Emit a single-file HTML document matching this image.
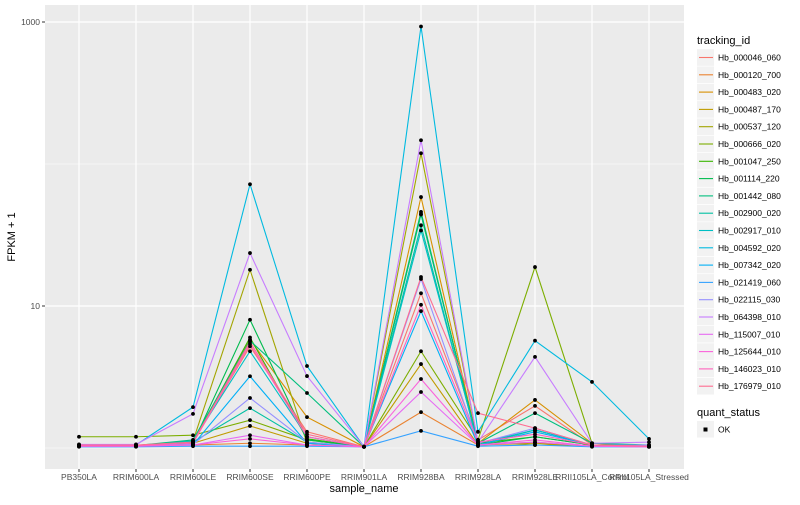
<!DOCTYPE html>
<html><head><meta charset="utf-8"><style>
body{margin:0;background:#fff;font-family:"Liberation Sans",sans-serif}
svg text{font-family:"Liberation Sans",sans-serif}
</style></head><body>
<svg id="chart" width="800" height="500"></svg>
<script>
const categories=["PB350LA","RRIM600LA","RRIM600LE","RRIM600SE","RRIM600PE","RRIM901LA","RRIM928BA","RRIM928LA","RRIM928LE","RRII105LA_Control","RRII105LA_Stressed"];
const seriesNames=["Hb_000046_060","Hb_000120_700","Hb_000483_020","Hb_000487_170","Hb_000537_120","Hb_000666_020","Hb_001047_250","Hb_001114_220","Hb_001442_080","Hb_002900_020","Hb_002917_010","Hb_004592_020","Hb_007342_020","Hb_021419_060","Hb_022115_030","Hb_064398_010","Hb_115007_010","Hb_125644_010","Hb_146023_010","Hb_176979_010"];
const colors=["#F8766D","#EA8331","#D89000","#C09B00","#A3A500","#7CAE00","#39B600","#00BB4E","#00BF7D","#00C1A3","#00BFC4","#00BAE0","#00B0F6","#35A2FF","#9590FF","#C77CFF","#E76BF3","#FA62DB","#FF62BC","#FF6C91"];
const s0=[1.05,1.03,1.1,5.2,1.3,1.02,12.3,1.14,1.98,1.05,1.03];
const s1=[1.03,1.03,1.05,1.08,1.05,1.02,1.79,1.05,1.1,1.03,1.02];
const s2=[1.04,1.04,1.1,5.8,1.65,1.02,58.5,1.08,2.18,1.08,1.03];
const s3=[1.03,1.03,1.08,1.43,1.08,1.02,3.9,1.05,1.08,1.03,1.02];
const s4=[1.04,1.04,1.12,18,1.08,1.02,119,1.1,1.05,1.05,1.03];
const s5=[1.2,1.2,1.23,1.57,1.14,1.02,4.8,1.14,18.8,1.08,1.03];
const s6=[1.03,1.03,1.1,6.0,1.16,1.02,44.5,1.08,1.2,1.05,1.03];
const s7=[1.03,1.03,1.08,8.0,1.14,1.02,46,1.05,1.2,1.05,1.03];
const s8=[1.04,1.04,1.14,5.7,2.44,1.02,44,1.08,1.76,1.08,1.05];
const s9=[1.03,1.03,1.1,1.91,1.1,1.02,37,1.05,1.34,1.05,1.03];
const s10=[1.03,1.03,1.12,4.8,1.2,1.02,34,1.08,1.34,1.05,1.03];
const s11=[1.05,1.05,1.94,72,3.78,1.02,930,1.3,5.7,2.92,1.16];
const s12=[1.03,1.03,1.05,3.2,1.08,1.02,9.2,1.05,1.3,1.05,1.03];
const s13=[1.02,1.02,1.03,1.03,1.03,1.02,1.32,1.03,1.05,1.02,1.02];
const s14=[1.04,1.04,1.06,2.25,1.1,1.02,15.5,1.08,1.38,1.05,1.05];
const s15=[1.06,1.06,1.74,23.6,3.21,1.02,147,1.1,4.38,1.08,1.1];
const s16=[1.03,1.03,1.05,1.23,1.05,1.02,2.48,1.05,1.1,1.03,1.02];
const s17=[1.03,1.03,1.05,1.16,1.05,1.02,3.06,1.05,1.14,1.03,1.02];
const s18=[1.04,1.04,1.08,5.4,1.2,1.02,10.2,1.1,1.25,1.05,1.03];
const s19=[1.05,1.05,1.1,5.6,1.25,1.02,16,1.76,1.38,1.05,1.03];
const seriesValues=[s0,s1,s2,s3,s4,s5,s6,s7,s8,s9,s10,s11,s12,s13,s14,s15,s16,s17,s18,s19];
const yTicks=[10,1000];
const yMinor=[1,100];

const NS="http://www.w3.org/2000/svg";
const svg=document.getElementById("chart");
const P={l:45,r:684,t:5,b:469};
function xS(i){return 79+i*57;}
function yS(v){return 448-142*Math.log10(v);}
function el(tag,attrs,parent){const e=document.createElementNS(NS,tag);for(const k in attrs)e.setAttribute(k,attrs[k]);(parent||svg).appendChild(e);return e;}

const panel=el("rect",{x:P.l,y:P.t,width:P.r-P.l,height:P.b-P.t,fill:"#EBEBEB"});


yMinor.forEach(v=>{const g=el("line",{x1:P.l,x2:P.r,y1:yS(v),y2:yS(v),stroke:"#fff","stroke-width":0.6});

});
yTicks.forEach(v=>{const g=el("line",{x1:P.l,x2:P.r,y1:yS(v),y2:yS(v),stroke:"#fff","stroke-width":1.2});


el("line",{x1:P.l-3,x2:P.l,y1:yS(v),y2:yS(v),stroke:"#333","stroke-width":1});
const t=el("text",{x:P.l-5,y:yS(v)+3,"text-anchor":"end","font-size":"8.5",fill:"#4D4D4D"});t.textContent=String(v);

});
categories.forEach((c,i)=>{const g=el("line",{x1:xS(i),x2:xS(i),y1:P.t,y2:P.b,stroke:"#fff","stroke-width":1.2});


el("line",{x1:xS(i),x2:xS(i),y1:P.b,y2:P.b+3,stroke:"#333","stroke-width":1});
const t=el("text",{x:xS(i),y:P.b+11,"text-anchor":"middle","font-size":"8.5",fill:"#4D4D4D"});t.textContent=c;

});

seriesValues.forEach((vals,si)=>{
 const pts=vals.map((v,i)=>xS(i)+","+yS(v)).join(" ");
 const pl=el("polyline",{points:pts,fill:"none",stroke:colors[si],"stroke-width":1.1});
 
 
});
seriesValues.forEach((vals)=>{vals.forEach((v,i)=>{
 const c=el("circle",{cx:xS(i),cy:yS(v),r:1.9,fill:"#000"});
 
 
});});

const xt=el("text",{x:364,y:492,"text-anchor":"middle","font-size":"11",fill:"#000"});xt.textContent="sample_name";


const yt=el("text",{x:15,y:237,"text-anchor":"middle","font-size":"11",fill:"#000",transform:"rotate(-90 15 237)"});yt.textContent="FPKM + 1";



const lt=el("text",{x:697,y:44,"font-size":"11",fill:"#000"});lt.textContent="tracking_id";


seriesNames.forEach((n,i)=>{
 const cy=57.5+i*17.3;
 const g=el("g",{});
 
 
 el("rect",{x:697,y:cy-8.3,width:17,height:16.6,fill:"#F2F2F2"},g);
 el("line",{x1:699,x2:713,y1:cy,y2:cy,stroke:colors[i],"stroke-width":1.1},g);
 const t=el("text",{x:718,y:cy+3,"font-size":"8.5",fill:"#000"},g);t.textContent=n;
});
const qt=el("text",{x:697,y:416,"font-size":"11",fill:"#000"});qt.textContent="quant_status";


const qg=el("g",{});


el("rect",{x:697,y:421,width:17,height:16.6,fill:"#F2F2F2"},qg);
el("rect",{x:703.5,y:427.5,width:4,height:4,fill:"#000"},qg);
const ot=el("text",{x:718,y:432.5,"font-size":"8.5",fill:"#000"},qg);ot.textContent="OK";
</script>
</body></html>
